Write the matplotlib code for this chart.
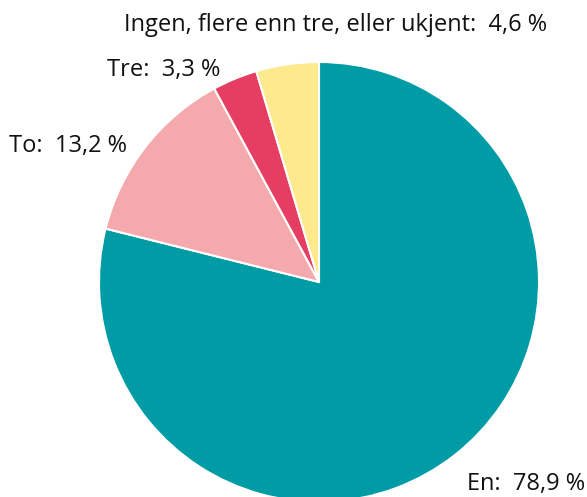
import matplotlib
matplotlib.use("Agg")
import matplotlib.pyplot as plt

categories = ["En", "To", "Tre", "Ingen, flere enn tre, eller ukjent"]
shares = [78.9, 13.2, 3.3, 4.6]
colors = ["#009ca6", "#f4a9ad", "#e63e62", "#fee98c"]

W, H = 587, 497
fig = plt.figure(figsize=(W / 100, H / 100), dpi=100)

# pie centre at (319, 282) px from top-left, radius 220 px
cx, cy, r = 319, H - 282, 220
ax = fig.add_axes([(cx - r) / W, (cy - r) / H, 2 * r / W, 2 * r / H])
ax.pie(shares, colors=colors, startangle=90, counterclock=False,
       radius=1.0, wedgeprops=dict(edgecolor="white", linewidth=1.5))
ax.set_xlim(-1, 1)
ax.set_ylim(-1, 1)
ax.set_aspect("auto")
ax.axis("off")

def lab(i):
    return f"{categories[i]}:  {shares[i]:.1f} %".replace(".", ",")

font = dict(family="Open Sans", fontsize=17, color="#111111")
# label positions in px (x, y from top)
fig.text(124 / W, 1 - 25 / H, lab(3), ha="left", va="center", **font)
fig.text(107 / W, 1 - 70 / H, lab(2), ha="left", va="center", **font)
fig.text(9 / W, 1 - 146 / H, lab(1), ha="left", va="center", **font)
fig.text(585 / W, 1 - 484 / H, lab(0), ha="right", va="center", **font)

fig.savefig("out.png", dpi=100)
